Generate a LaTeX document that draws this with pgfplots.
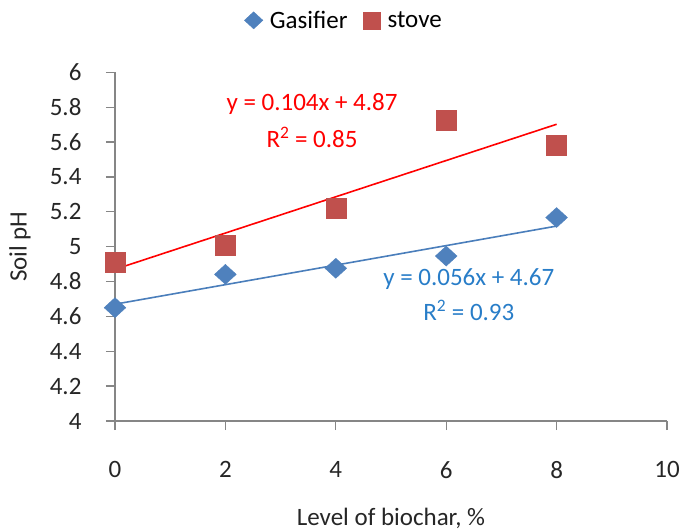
\documentclass[border=0pt]{standalone}
\usepackage{pgfplots}
\pgfplotsset{compat=1.18}
\usepackage{fontspec}
\setmainfont{Carlito}
\definecolor{gasblue}{RGB}{79,129,189}
\definecolor{stovered}{RGB}{192,80,77}
\definecolor{trendblue}{RGB}{74,126,187}
\definecolor{eqblue}{RGB}{40,125,200}
\definecolor{axisgray}{RGB}{134,134,134}

% measured soil pH values
\pgfplotstableread{
x y
0 4.650
2 4.841
4 4.876
6 4.946
8 5.167
}\gasifier
\pgfplotstableread{
x y
0 4.909
2 5.009
4 5.218
6 5.725
8 5.581
}\stove

\begin{document}
\begin{tikzpicture}[x=1pt,y=1pt]
\useasboundingbox (-115,-110) rectangle (570,421);
\begin{axis}[
  at={(0,0)}, anchor=south west,
  scale only axis, width=552pt, height=348.7pt,
  xmin=0, xmax=10, ymin=4, ymax=6,
  axis x line*=bottom, axis y line*=left,
  axis line style={axisgray, line width=1.3pt},
  xtick={0,2,4,6,8,10},
  ytick={4,4.2,4.4,4.6,4.8,5,5.2,5.4,5.6,5.8,6},
  yticklabels={4,4.2,4.4,4.6,4.8,5,5.2,5.4,5.6,5.8,6},
  tick align=outside, major tick length=9pt,
  tick style={axisgray, line width=1.3pt},
  /pgf/number format/assume math mode=true,
  ticklabel style={font=\fontsize{25}{30}\selectfont, text=black!85},
  xticklabel style={yshift=-28pt},
  yticklabel style={xshift=-21pt},
  xlabel={Level of biochar, \%},
  ylabel={Soil pH},
  label style={font=\fontsize{25}{30}\selectfont, text=black!85},
  xlabel style={at={(axis description cs:0.5,0)}, anchor=center, yshift=-97pt},
  ylabel style={at={(axis description cs:-0.172,0.5)}, anchor=center},
  legend style={at={(0.415,1.149)}, anchor=center, draw=none, fill=none,
    font=\fontsize{25}{30}\selectfont, legend columns=2,
    /tikz/every odd column/.append style={column sep=5pt},
    /tikz/every even column/.append style={column sep=14pt}},
  legend image post style={scale=0.85},
  legend cell align=left,
  clip=false,
]
\addplot[only marks, mark=diamond*, mark size=10pt,
  mark options={xscale=1.45, fill=gasblue, draw=gasblue}] table {\gasifier};
\addlegendentry{Gasifier}
\addplot[only marks, mark=square*, mark size=10pt,
  mark options={fill=stovered, draw=stovered}] table {\stove};
\addlegendentry{stove}

% linear trend lines
\addplot[trendblue, line width=1.6pt, forget plot] coordinates {(0,4.67) (8,5.118)};
\addplot[red, line width=1.6pt, forget plot] coordinates {(0,4.87) (8,5.702)};

% trend line equations
\node[text=red, font=\fontsize{25}{30}\selectfont] at (axis cs:3.57,5.816) {y = 0.104x + 4.87};
\node[text=red, font=\fontsize{25}{30}\selectfont] at (axis cs:3.57,5.627) {R\textsuperscript{2} = 0.85};
\node[text=eqblue, font=\fontsize{25}{30}\selectfont] at (axis cs:6.41,4.813) {y = 0.056x + 4.67};
\node[text=eqblue, font=\fontsize{25}{30}\selectfont] at (axis cs:6.41,4.637) {R\textsuperscript{2} = 0.93};
\end{axis}
\end{tikzpicture}
\end{document}
